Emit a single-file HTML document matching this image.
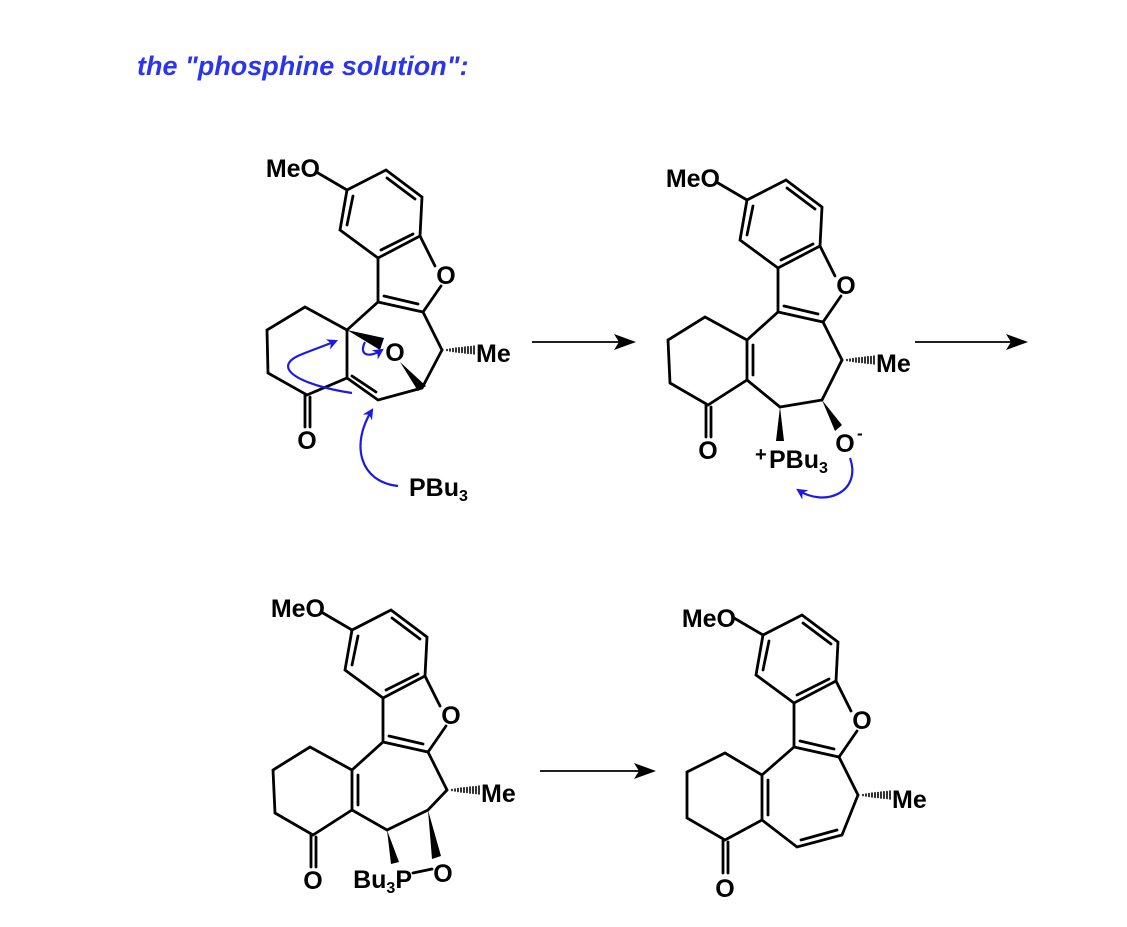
<!DOCTYPE html>
<html><head><meta charset="utf-8"><style>
html,body{margin:0;padding:0;background:#fff;width:1127px;height:927px;overflow:hidden}
svg{display:block}
text{font-family:"Liberation Sans",Arial,sans-serif;font-weight:bold;fill:#000}
</style></head><body>
<svg width="1127" height="927" viewBox="0 0 1127 927" xmlns="http://www.w3.org/2000/svg">
<defs>
<marker id="bh" viewBox="0 0 10 10" refX="8" refY="5" markerWidth="5" markerHeight="5" orient="auto" markerUnits="strokeWidth"><path d="M0,0 L10,5 L0,10 L3,5 z" fill="#1a1ae6"/></marker>
<g id="top" stroke="#000" stroke-width="2.8" fill="none" stroke-linecap="round">
<path d="M318,173 L347,190 L386,170 L422,197 L420,236 L378,258 L340,230 L347,190"/>
<path d="M353,196 L347,225 M387,178 L415,199 M413,234 L381,250"/>
<path d="M378,258 L378,302 L423,312 L441,286 M435,266 L420,236"/>
<path d="M384,296 L418,304"/>
<path d="M423,312 L442,350"/>
<g stroke-width="1.6">
<path d="M447,349.5v1 M450,349v2 M453,348.5v3 M456,348v4 M459,347.8v4.6 M462,347.5v5 M465,347v6 M468,346.8v6.5 M471,346.5v7 M474,346v8"/>
</g>
</g>
</defs>

<text x="137" y="75" style="font-style:italic;font-size:27px;fill:#2b35ee">the "phosphine solution":</text>

<!-- Molecule 1 -->
<use href="#top"/>
<g stroke="#000" stroke-width="2.8" fill="none" stroke-linecap="round">
<path d="M378,302 L347,330 L347,378 M347,330 L305,307 L267,330 L268,373 L307,395 L347,378 L378,400 L422,388 L442,350"/>
<path d="M352,376 L376,392"/>
<path d="M305,395 V427 M310,397 V427"/>
</g>
<polygon points="347,330 384,338 380,350" fill="#000"/>
<polygon points="400,362 418,391 426,386" fill="#000"/>
<text x="320" y="177" font-size="25" text-anchor="end">MeO</text>
<text x="446" y="284" font-size="25" text-anchor="middle">O</text>
<text x="395" y="361" font-size="25" text-anchor="middle">O</text>
<text x="476" y="362" font-size="25">Me</text>
<text x="307" y="449" font-size="25" text-anchor="middle">O</text>
<text x="409" y="496" font-size="25">PBu<tspan font-size="16" dy="5">3</tspan></text>
<g stroke="#1a1ae6" stroke-width="2.2" fill="none">
<path d="M398,486 C360,482 350,445 372,410" marker-end="url(#bh)"/>
<path d="M352,393 C300,385 270,368 300,355 C312,350 324,346 336,341" marker-end="url(#bh)"/>
<path d="M365,342 C358,356 370,358 382,350" marker-end="url(#bh)"/>
</g>

<!-- arrows -->
<g stroke="#000" stroke-width="1.8"><path d="M532,342 H622 M915,342 H1012 M540,771 H642"/></g>
<polygon points="636,342 614,334 619,342 614,350" fill="#000"/>
<polygon points="1028,342 1006,334 1011,342 1006,350" fill="#000"/>
<polygon points="656,771 634,763 639,771 634,779" fill="#000"/>

<!-- Molecule 2 -->
<use href="#top" transform="translate(400,10)"/>
<g stroke="#000" stroke-width="2.8" fill="none" stroke-linecap="round">
<path d="M778,312 L747,340 L747,380 M747,340 L705,317 L668,340 L670,383 L708,405 L747,380 L780,407 L822,400 L842,360"/>
<path d="M753,345 V375"/>
<path d="M706,405 V437 M711,407 V437"/>
</g>
<polygon points="780,407 776,441 784,441" fill="#000"/>
<polygon points="822,400 835,431 842,425" fill="#000"/>
<text x="720" y="187" font-size="25" text-anchor="end">MeO</text>
<text x="846" y="294" font-size="25" text-anchor="middle">O</text>
<text x="876" y="372" font-size="25">Me</text>
<text x="708" y="459" font-size="25" text-anchor="middle">O</text>
<text x="845" y="452" font-size="25" text-anchor="middle">O</text>
<text x="857" y="439" font-size="17">-</text>
<text x="755" y="461" font-size="20">+</text>
<text x="769" y="468" font-size="25">PBu<tspan font-size="16" dy="5">3</tspan></text>
<path d="M850,458 C862,492 825,508 798,490" stroke="#1a1ae6" stroke-width="2.2" fill="none" marker-end="url(#bh)"/>

<!-- Molecule 3 -->
<use href="#top" transform="translate(5,440)"/>
<g stroke="#000" stroke-width="2.8" fill="none" stroke-linecap="round">
<path d="M383,742 L352,770 L352,810 M352,770 L310,747 L273,770 L275,813 L313,835 L352,810 L387,830 L428,810 L447,790"/>
<path d="M358,775 V805"/>
<path d="M311,835 V867 M316,837 V867"/>
<path d="M413,873 L432,869"/>
</g>
<polygon points="387,830 391,864 399,862" fill="#000"/>
<polygon points="428,810 432,859 441,856" fill="#000"/>
<text x="325" y="617" font-size="25" text-anchor="end">MeO</text>
<text x="451" y="724" font-size="25" text-anchor="middle">O</text>
<text x="481" y="802" font-size="25">Me</text>
<text x="313" y="889" font-size="25" text-anchor="middle">O</text>
<text x="443" y="882" font-size="25" text-anchor="middle">O</text>
<text x="412" y="888" font-size="25" text-anchor="end">Bu<tspan font-size="16" dy="5">3</tspan><tspan dy="-5">P</tspan></text>

<!-- Molecule 4 -->
<use href="#top" transform="translate(416,445)"/>
<g stroke="#000" stroke-width="2.8" fill="none" stroke-linecap="round">
<path d="M794,747 L762,775 L762,820 M762,775 L725,753 L687,772 L687,818 L725,840 L762,820 L797,847 L842,835 L858,795"/>
<path d="M768,780 V815"/>
<path d="M801,840 L837,830"/>
<path d="M723,840 V873 M728,842 V873"/>
</g>
<text x="736" y="627" font-size="25" text-anchor="end">MeO</text>
<text x="862" y="729" font-size="25" text-anchor="middle">O</text>
<text x="892" y="808" font-size="25">Me</text>
<text x="725" y="897" font-size="25" text-anchor="middle">O</text>
</svg>
</body></html>
